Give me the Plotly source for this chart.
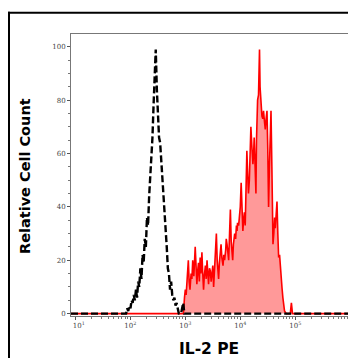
import plotly.graph_objects as go

# ---- data (log10 of IL-2 PE intensity, relative cell count) ----
stained_log = [0.92, 2.955, 2.965, 2.985, 3.00, 3.015, 3.035, 3.055, 3.07, 3.085, 3.105, 3.12, 3.135, 3.155,
               3.18, 3.195, 3.21, 3.225, 3.24, 3.255, 3.27, 3.285, 3.302, 3.315, 3.332, 3.345, 3.365,
               3.38, 3.395, 3.41, 3.423, 3.44, 3.455, 3.47, 3.485, 3.50, 3.515, 3.53, 3.545, 3.565,
               3.58, 3.595, 3.606, 3.62, 3.635, 3.65, 3.665, 3.686, 3.70, 3.715, 3.735, 3.745, 3.759,
               3.775, 3.789, 3.805, 3.82, 3.835, 3.85, 3.862, 3.875, 3.898, 3.915, 3.93, 3.942, 3.95,
               3.97, 3.985, 4.00, 4.016, 4.03, 4.047, 4.06, 4.075, 4.09, 4.105, 4.12, 4.135, 4.149,
               4.165, 4.18, 4.193, 4.21, 4.23, 4.243, 4.253, 4.27, 4.285, 4.295, 4.303, 4.315, 4.332,
               4.34, 4.35, 4.36, 4.376, 4.394, 4.41, 4.423, 4.44, 4.455, 4.47, 4.486, 4.50, 4.515,
               4.53, 4.545, 4.559, 4.575, 4.595, 4.61, 4.625, 4.637, 4.65, 4.668, 4.683, 4.698, 4.715,
               4.729, 4.745, 4.76, 4.775, 4.789, 4.805, 4.838, 4.91, 4.93, 4.95, 5.96]
stained_count = [0, 0, 0, 6, 9, 7, 14, 20, 12, 9, 15, 13, 20, 14,
                 25, 17, 11, 16, 19, 12, 21, 15, 23, 16, 9, 14, 18,
                 13, 20, 15, 11, 17, 16, 12, 15, 18, 10, 17, 22, 30,
                 20, 15, 13, 19, 23, 26, 21, 18, 22, 20, 24, 28, 26,
                 23, 20, 30, 39, 27, 22, 20, 26, 30, 28, 33, 31, 34,
                 33, 36, 40, 49, 38, 31, 35, 38, 33, 45, 61, 52, 45,
                 50, 62, 70, 63, 56, 60, 66, 55, 45, 65, 79, 80, 82,
                 88, 99, 85, 78, 74, 73, 76, 72, 69, 73, 76, 62, 40,
                 55, 70, 76, 55, 26, 30, 36, 32, 38, 42, 30, 21, 22,
                 19, 14, 9.5, 6, 3, 1, 0, 0, 4, 0, 0]

isotype_log = [0.92, 1.922, 1.942, 1.962, 1.982, 2.002, 2.022, 2.042, 2.062, 2.082, 2.102, 2.122, 2.142, 2.162,
               2.182, 2.202, 2.222, 2.242, 2.262, 2.282, 2.302, 2.322, 2.342, 2.362, 2.382, 2.402, 2.422,
               2.442, 2.462, 2.482, 2.502, 2.522, 2.542, 2.562, 2.582, 2.602, 2.622, 2.642, 2.662, 2.682,
               2.702, 2.722, 2.742, 2.762, 2.782, 2.802, 2.822, 2.842, 2.862, 2.882, 2.922, 2.962, 2.982, 5.96]
isotype_count = [0, 0, 2, 1, 3, 2, 5, 4, 7, 5, 9, 6, 12, 10,
                 17, 13, 22, 19, 28, 25, 36, 33, 44, 50, 60, 66, 78,
                 86, 99, 84, 76, 66, 64, 58, 53, 47, 41, 34, 25, 17,
                 15, 9, 12, 7, 5, 6, 3, 4, 2, 0, 0, 4, 0, 0]

x_tick_exp = [1, 2, 3, 4, 5, 6]
x_tick_text = ["&nbsp;&nbsp;&nbsp;10<sup>1</sup>", "10<sup>2</sup>", "10<sup>3</sup>",
               "10<sup>4</sup>", "10<sup>5</sup>", "10<sup>6</sup>&nbsp;&nbsp;&nbsp;&nbsp;&nbsp;"]
y_tick_vals = [0, 20, 40, 60, 80, 100]

x_title = "IL-2 PE"
y_title = "Relative Cell Count"

fig = go.Figure()
fig.add_trace(go.Scatter(
    x=[10 ** v for v in stained_log], y=stained_count, mode="lines",
    line=dict(color="#ff0000", width=1.6), fill="tozeroy",
    fillcolor="rgba(255,0,0,0.4)", showlegend=False, hoverinfo="skip"))
fig.add_trace(go.Scatter(
    x=[10 ** v for v in isotype_log], y=isotype_count, mode="lines",
    line=dict(color="#000000", width=2.4, dash="7px,3px"),
    showlegend=False, hoverinfo="skip"))

# the page body adds an 8px offset; the figure is sized to fill the rest of the window
OFF = 8
L, R, T, B = 71 - OFF, 8, 34 - OFF, 42
W, H = 356 - OFF, 358 - OFF
pw, ph = W - L - R, H - T - B

def px(xw):
    return (xw - OFF - L) / pw

def py(yw):
    return (H - B - (yw - OFF)) / ph

tickfont = dict(family="DejaVu Serif", size=7, color="#444")
fig.update_layout(
    width=W, height=H,
    margin=dict(l=L, r=R, t=T, b=B),
    paper_bgcolor="white", plot_bgcolor="white",
    xaxis=dict(type="log", range=[0.92, 5.96], tickvals=[10 ** e for e in x_tick_exp],
               ticktext=x_tick_text, ticks="outside", ticklen=3, tickcolor="#555",
               tickfont=tickfont,
               showgrid=False, zeroline=False, showline=True, mirror=True,
               linecolor="#777", linewidth=1,
               minor=dict(ticks="outside", ticklen=2, tickcolor="#777",
                          tickvals=[m * 10 ** e for e in range(1, 6) for m in range(2, 10)])),
    yaxis=dict(range=[-0.9, 104.8], tickvals=y_tick_vals, ticks="outside", ticklen=3,
               tickcolor="#555", tickfont=tickfont, showgrid=False, zeroline=False,
               showline=True, mirror=True, linecolor="#777", linewidth=1,
               minor=dict(ticks="outside", ticklen=2, tickcolor="#777", dtick=5)),
    annotations=[
        dict(text=f"<b>{x_title}</b>", x=px(209), y=py(349), xref="paper", yref="paper",
             showarrow=False, xanchor="center", yanchor="middle",
             font=dict(family="DejaVu Sans", size=15.5, color="black")),
        dict(text=f"<b>{y_title}</b>", x=px(25), y=py(176), xref="paper", yref="paper",
             showarrow=False, xanchor="center", yanchor="middle", textangle=-90,
             font=dict(family="DejaVu Sans", size=14.5, color="black")),
    ],
    shapes=[
        dict(type="line", xref="paper", yref="paper", x0=px(9), x1=px(9), y0=py(11.7), y1=py(362),
             line=dict(color="black", width=2)),
        dict(type="line", xref="paper", yref="paper", x0=px(8), x1=px(362), y0=py(12.7), y1=py(12.7),
             line=dict(color="black", width=2)),
    ],
)

fig.write_html("out.html")
